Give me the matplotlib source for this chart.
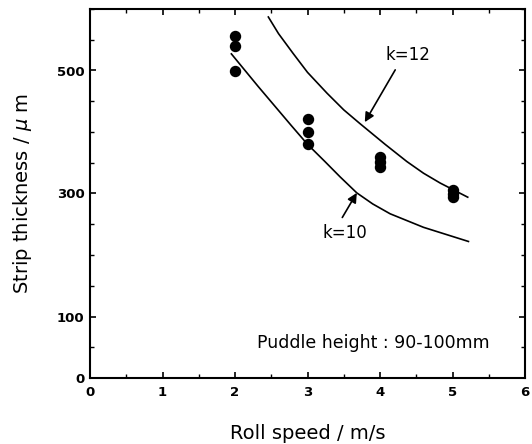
import matplotlib
matplotlib.use("Agg")
import matplotlib.pyplot as plt
from matplotlib.ticker import MultipleLocator

# measured points (roll speed, thickness)
speed_pts = [2, 2, 2, 3, 3, 3, 4, 4, 4, 5, 5, 5]
thick_pts = [556, 540, 499, 421, 400, 380, 359, 351, 343, 306, 299, 294]

# calculated curves
k12_x = [2.46, 2.6, 2.80, 3.0, 3.27, 3.5, 3.72, 4.07, 4.37, 4.6, 4.83, 5.21]
k12_y = [587, 560, 528, 497, 463, 436, 414, 380, 352, 333, 317, 294]
k10_x = [1.95, 2.32, 2.78, 3.0, 3.24, 3.45, 3.68, 3.9, 4.14, 4.6, 5.22]
k10_y = [527, 474, 410, 380, 352, 327, 301, 283, 267, 245, 222]

ytick_vals = [0, 100, 300, 500]

plt.rcParams['font.family'] = ['DejaVu Sans']

fig = plt.figure(figsize=(5.32, 4.44), dpi=100)
ax = fig.add_axes([90/532, 66/444, 435/532, 369/444])

ax.plot(k12_x, k12_y, color='black', lw=1.2)
ax.plot(k10_x, k10_y, color='black', lw=1.2)
ax.plot(speed_pts, thick_pts, 'o', color='black', ms=7.2)

arrow = dict(arrowstyle='-|>', color='black', lw=1.2, mutation_scale=14,
             shrinkA=0, shrinkB=0)
ax.annotate('', xy=(3.79, 416), xytext=(4.21, 501), arrowprops=arrow)
ax.text(4.39, 525, 'k=12', fontsize=12, ha='center', va='center')
ax.annotate('', xy=(3.68, 301), xytext=(3.48, 261), arrowprops=arrow)
ax.text(3.52, 236, 'k=10', fontsize=12, ha='center', va='center')
ax.text(2.3, 57, 'Puddle height : 90-100mm', fontsize=12.5, va='center', ha='left')

ax.set_xlim(0, 6)
ax.set_ylim(0, 600)
ax.set_xticks(range(7))
ax.xaxis.set_minor_locator(MultipleLocator(0.5))
ax.set_yticks(ytick_vals)
ax.yaxis.set_minor_locator(MultipleLocator(50))

for lab in ax.get_xticklabels() + ax.get_yticklabels():
    lab.set_fontweight('bold')
ax.tick_params(which='both', direction='in', top=True, right=True, labelsize=9.5)
ax.tick_params(which='major', length=4, width=1.2)
ax.tick_params(which='minor', length=3, width=1)
ax.tick_params(axis='x', pad=6)
ax.tick_params(axis='y', pad=4)

for s in ax.spines.values():
    s.set_linewidth(1.5)

ax.set_xlabel('Roll speed / m/s', fontsize=14, labelpad=18)
ax.set_ylabel('Strip thickness / $\\mu$ m', fontsize=14, labelpad=16)

fig.savefig('out.png', dpi=100)
